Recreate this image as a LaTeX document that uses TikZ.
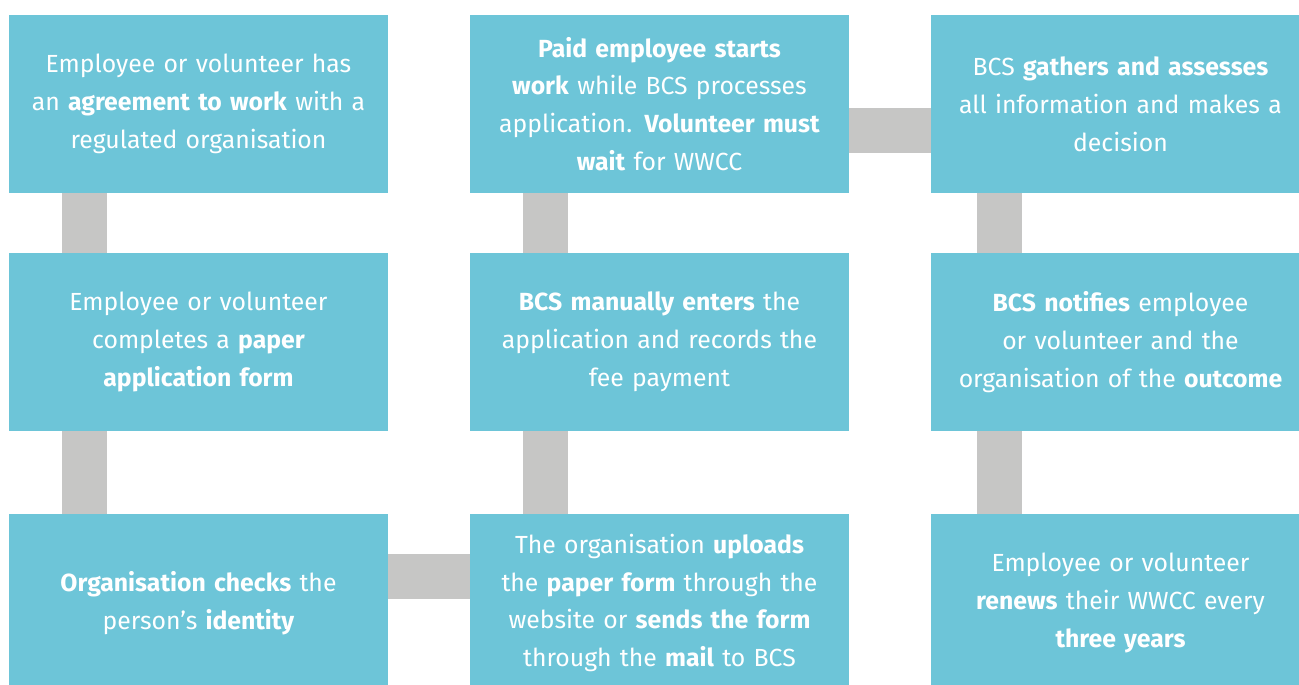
\documentclass[tikz,border=0pt]{standalone}
\usepackage{fontspec}
\setmainfont{Fira Sans}
\definecolor{stepblue}{HTML}{6DC5D8}
\definecolor{linkgrey}{HTML}{C6C6C5}

\begin{document}
\begin{tikzpicture}[
        stepbox/.style={fill=stepblue, text=white, minimum width=7.58cm,
            minimum height=3.56cm, text width=7.2cm, align=center,
            inner sep=0pt, font=\fontsize{14.1}{21.5}\selectfont},
        link/.style={draw=linkgrey, line width=0.9cm}]
        % Fix the page size
        \clip (0,0) rectangle (25.98,-13.68);
        % First column
        \node[stepbox] (agree) at (3.97,-2.08)
            {Employee or volunteer has\\an \textbf{agreement to work} with a\\regulated organisation};
        \node[stepbox] (paper) at (3.97,-6.84)
            {Employee or volunteer\\completes a \textbf{paper}\\\textbf{application form}};
        \node[stepbox] (checks) at (3.97,-12.06)
            {\textbf{Organisation checks} the\\person’s \textbf{identity}};
        % Second column
        \node[stepbox] (starts) at (13.19,-2.08)
            {\textbf{Paid employee starts}\\\textbf{work} while BCS processes\\application. \textbf{Volunteer must}\\\textbf{wait} for WWCC};
        \node[stepbox] (enters) at (13.19,-6.84)
            {\textbf{BCS manually enters} the\\application and records the\\fee payment};
        \node[stepbox] (uploads) at (13.19,-12.06)
            {The organisation \textbf{uploads}\\the \textbf{paper form} through the\\website or \textbf{sends the form}\\through the \textbf{mail} to BCS};
        % Third column
        \node[stepbox] (assess) at (22.41,-2.08)
            {BCS \textbf{gathers and assesses}\\all information and makes a\\decision};
        \node[stepbox] (notify) at (22.41,-6.84)
            {\textbf{BCS notifies} employee\\or volunteer and the\\organisation of the \textbf{outcome}};
        \node[stepbox] (renew) at (22.41,-12.06)
            {Employee or volunteer\\\textbf{renews} their WWCC every\\\textbf{three years}};
        % Join the steps
        \draw[link] ([xshift=1.51cm]agree.south west) -- ([xshift=1.51cm]paper.north west);
        \draw[link] ([xshift=1.51cm]paper.south west) -- ([xshift=1.51cm]checks.north west);
        \draw[link] ([yshift=-1.25cm]checks.north east) -- ([yshift=-1.25cm]uploads.north west);
        \draw[link] ([xshift=1.51cm]uploads.north west) -- ([xshift=1.51cm]enters.south west);
        \draw[link] ([xshift=1.51cm]enters.north west) -- ([xshift=1.51cm]starts.south west);
        \draw[link] ([yshift=-2.31cm]starts.north east) -- ([yshift=-2.31cm]assess.north west);
        \draw[link] ([xshift=1.37cm]assess.south west) -- ([xshift=1.37cm]notify.north west);
        \draw[link] ([xshift=1.37cm]notify.south west) -- ([xshift=1.37cm]renew.north west);
    \end{tikzpicture}
\end{document}
